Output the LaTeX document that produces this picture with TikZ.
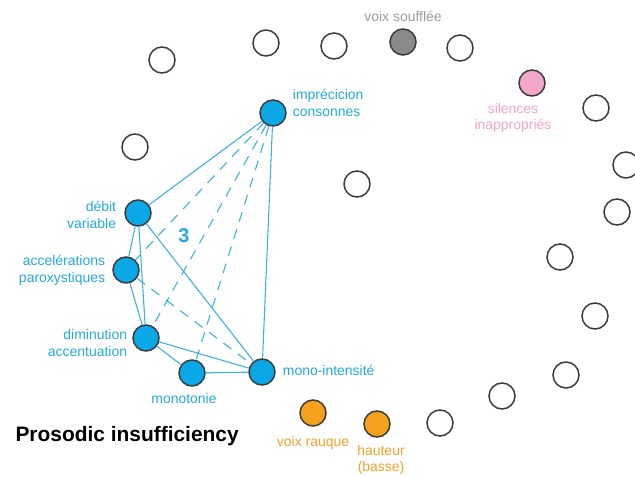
\documentclass[tikz,border=0pt]{standalone}
\usepackage{fontspec}
\setmainfont{Liberation Sans}
\usetikzlibrary{positioning}
\definecolor{sblue}{HTML}{0BA8E8}
\definecolor{lblue}{HTML}{3DB3E3}
\definecolor{tblue}{HTML}{22A9E1}
\definecolor{sorange}{HTML}{F6A11E}
\definecolor{torange}{HTML}{F2A02A}
\definecolor{spink}{HTML}{F3A8CA}
\definecolor{tpink}{HTML}{F4A3C6}
\definecolor{sgray}{HTML}{8A8A8A}
\definecolor{tgray}{HTML}{9B9B9B}
\definecolor{rimgray}{HTML}{3C3C3C}
\tikzset{
  disc/.style={circle,minimum size=26bp,inner sep=0pt,draw=rimgray,line width=1.5bp,fill=white},
  symp/.style={disc,fill=sblue},
  rough/.style={disc,fill=sorange},
  breath/.style={disc,fill=sgray},
  pause/.style={disc,fill=spink},
  lab/.style={font=\fontsize{14}{17}\selectfont,text=tblue,align=center,inner sep=1pt},
  link/.style={draw=lblue,line width=1.1bp},
  dlink/.style={link,dash pattern=on 10bp off 8bp},
}
\begin{document}
\begin{tikzpicture}[x=1bp,y=-1bp]
\useasboundingbox (0,0) rectangle (635,477);
% ---- other symptoms (empty) ----
\node[disc] (e1) at (162,60) {};
\node[disc] (e2) at (266,43) {};
\node[disc] (e3) at (334,46) {};
\node[disc] (e4) at (460,48) {};
\node[disc] (e5) at (596,108) {};
\node[disc] (e6) at (626,165) {};
\node[disc] (e7) at (617,212) {};
\node[disc] (e8) at (560,257) {};
\node[disc] (e9) at (595,316) {};
\node[disc] (e10) at (566,375) {};
\node[disc] (e11) at (502,396) {};
\node[disc] (e12) at (440,423) {};
\node[disc] (e13) at (135,147) {};
\node[disc] (e14) at (357,184) {};

% ---- cluster 3: prosodic insufficiency ----
\node[symp] (imp) at (273,113) {};
\node[symp] (debit) at (138,213) {};
\node[symp] (accel) at (126,270) {};
\node[symp] (dimin) at (146,338) {};
\node[symp] (monot) at (192,373) {};
\node[symp] (mint) at (262,372) {};
\node[lab,right=5bp of imp,align=left,yshift=10bp] {imprécicion\\consonnes};
\node[lab,left=7bp of debit,align=right,yshift=-2bp] {débit\\variable};
\node[lab,left=6bp of accel,align=right] {accelérations\\paroxystiques};
\node[lab,left=4bp of dimin,align=right,yshift=-5bp] {diminution\\accentuation};
\node[lab,below=5bp of monot,xshift=-8bp] {monotonie};
\node[lab,right=6bp of mint,yshift=2bp] {mono-intensité};
\node[font=\bfseries\fontsize{20}{20}\selectfont,text=tblue] (three) at (184,236) {3};
\draw[link] (debit) -- (imp);
\draw[link] (imp) -- (mint);
\draw[link] (debit) -- (accel);
\draw[link] (debit) -- (dimin);
\draw[link] (debit) -- (mint);
\draw[link] (accel) -- (dimin);
\draw[link] (dimin) -- (monot);
\draw[link] (dimin) -- (mint);
\draw[link] (monot) -- (mint);
\draw[dlink] (imp) -- (accel);
\draw[dlink] (imp) -- (dimin);
\draw[dlink] (imp) -- (monot);
\draw[dlink] (accel) -- (mint);

% ---- coloured symptoms ----
\node[breath] (souff) at (403,42) {};
\node[lab,text=tgray,above=5bp of souff] {voix soufflée};
\node[pause] (sil) at (532,83) {};
\node[lab,text=tpink,below=5bp of sil,xshift=-19bp] {silences\\inappropriés};
\node[rough] (rauq) at (313,413) {};
\node[lab,text=torange,below=8bp of rauq] {voix rauque};
\node[rough] (haut) at (377,424) {};
\node[lab,text=torange,below=6bp of haut,xshift=4bp] {hauteur\\(basse)};

% ---- title ----
\node[font=\bfseries\fontsize{21}{21}\selectfont,anchor=west] (title) at (12,436) {Prosodic insufficiency};
\end{tikzpicture}
\end{document}
